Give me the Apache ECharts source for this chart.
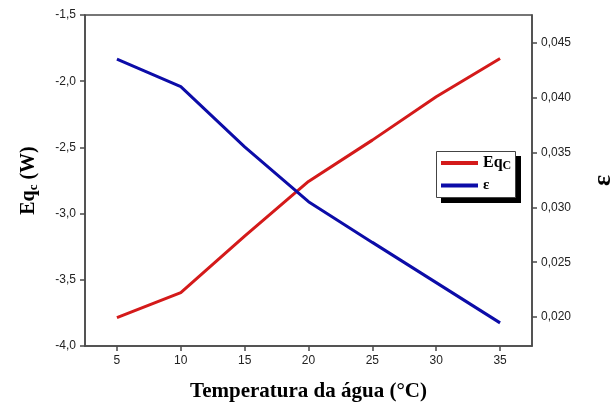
<!DOCTYPE html>
<html>
<head>
<meta charset="utf-8">
<script src="https://cdn.jsdelivr.net/npm/echarts@6/dist/echarts.min.js"></script>
<style>html,body{margin:0;padding:0;background:#fff;}#c{width:612px;height:407px;}</style>
</head>
<body>
<div id="c"></div>
<script>
var temperatures = [5, 10, 15, 20, 25, 30, 35];
var eqcValues = [-3.786, -3.597, -3.17, -2.757, -2.445, -2.117, -1.828];
var epsValues = [0.04352, 0.04102, 0.03553, 0.03052, 0.02681, 0.02314, 0.01947];
var xTicks = [5, 10, 15, 20, 25, 30, 35];
var leftTicks = [-4.0, -3.5, -3.0, -2.5, -2.0, -1.5];
var rightTicks = [0.020, 0.025, 0.030, 0.035, 0.040, 0.045];

function pairs(xs, ys) { return xs.map(function (x, i) { return [x, ys[i]]; }); }
var labelFont = { fontFamily: 'Liberation Sans, Arial, sans-serif', fontSize: 12, color: '#222' };
var axisColor = '#4a4a4a';
var serif = 'Liberation Serif, Times New Roman, serif';

var chart = echarts.init(document.getElementById('c'), null, { renderer: 'canvas' });
chart.setOption({
  animation: false,
  backgroundColor: '#fff',
  grid: { left: 85, right: 80, top: 15, bottom: 61, containLabel: false, outerBoundsMode: 'none', show: true, borderColor: axisColor, borderWidth: 1.5, backgroundColor: 'transparent' },
  graphic: [
    { type: 'rect', z: 50, silent: true, shape: { x: 441, y: 156, width: 80, height: 47 }, style: { fill: '#000' } },
    { type: 'rect', z: 51, silent: true, shape: { x: 436.5, y: 151.5, width: 79, height: 46 }, style: { fill: '#fff', stroke: '#444', lineWidth: 1 } }
  ],
  legend: {
    z: 60,
    orient: 'vertical',
    left: 441, top: 150,
    padding: 0,
    itemGap: 6,
    itemWidth: 37, itemHeight: 4,
    icon: 'rect',
    backgroundColor: 'transparent',
    borderWidth: 0,
    formatter: function (name) { return name === 'Eqc' ? '{b|Eq}{s|C}' : '{e|ε}'; },
    textStyle: {
      rich: {
        b: { fontFamily: serif, fontWeight: 'bold', fontSize: 16, lineHeight: 18, color: '#000' },
        s: { fontFamily: serif, fontWeight: 'bold', fontSize: 12, color: '#000', verticalAlign: 'bottom', lineHeight: 12, padding: [10, 0, 0, 0] },
        e: { fontFamily: serif, fontWeight: 'bold', fontSize: 15, lineHeight: 22, color: '#000' }
      }
    },
    data: ['Eqc', 'ε']
  },
  xAxis: {
    type: 'value', min: 2.5, max: 37.5,
    name: 'Temperatura da água (°C)', nameLocation: 'middle', nameGap: 35,
    nameTextStyle: { fontFamily: serif, fontWeight: 'bold', fontSize: 21, color: '#000' },
    axisLine: { show: true, lineStyle: { color: axisColor, width: 1.5 } },
    axisTick: { show: true, inside: false, length: 5, customValues: xTicks, lineStyle: { color: axisColor, width: 1.5 } },
    axisLabel: { customValues: xTicks, margin: 9, ...labelFont },
    splitLine: { show: false }
  },
  yAxis: [{
    type: 'value', min: -4.0, max: -1.5, interval: 0.5, position: 'left',
    name: '{b|Eq}{s|c}{b| (W)}', nameLocation: 'middle', nameGap: 45,
    nameTextStyle: {
      rich: {
        b: { fontFamily: serif, fontWeight: 'bold', fontSize: 20, color: '#000' },
        s: { fontFamily: serif, fontWeight: 'bold', fontSize: 13, color: '#000', verticalAlign: 'bottom', padding: [10, 0, 0, 0] }
      }
    },
    axisLine: { show: true, lineStyle: { color: axisColor, width: 1.5 } },
    axisTick: { show: true, inside: false, length: 5, lineStyle: { color: axisColor, width: 1.5 } },
    axisLabel: { margin: 9, formatter: function (v) { return v.toFixed(1).replace('.', ','); }, ...labelFont },
    splitLine: { show: false }
  }, {
    type: 'value', min: 0.01736, max: 0.04755, position: 'right',
    name: 'ε', nameLocation: 'middle', nameGap: 58,
    nameTextStyle: { fontFamily: serif, fontWeight: 'bold', fontSize: 26, color: '#000' },
    axisLine: { show: true, lineStyle: { color: axisColor, width: 1.5 } },
    axisTick: { show: true, inside: false, length: 5, customValues: rightTicks, lineStyle: { color: axisColor, width: 1.5 } },
    axisLabel: { customValues: rightTicks, margin: 9, formatter: function (v) { return v.toFixed(3).replace('.', ','); }, ...labelFont },
    splitLine: { show: false }
  }],
  series: [{
    name: 'Eqc', type: 'line', yAxisIndex: 0, data: pairs(temperatures, eqcValues),
    showSymbol: false, symbol: 'none', color: '#d41a1a',
    lineStyle: { color: '#d41a1a', width: 3 }
  }, {
    name: 'ε', type: 'line', yAxisIndex: 1, data: pairs(temperatures, epsValues),
    showSymbol: false, symbol: 'none', color: '#0c0ca8',
    lineStyle: { color: '#0c0ca8', width: 3 }
  }]
});
</script>
</body>
</html>
